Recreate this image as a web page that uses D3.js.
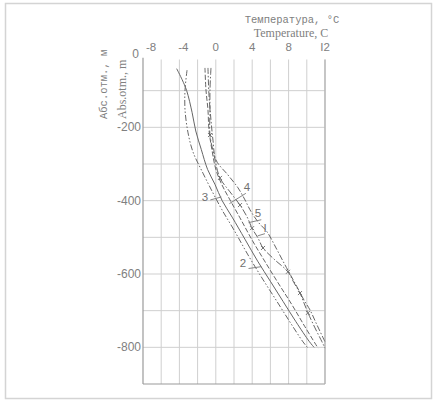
<!DOCTYPE html>
<html><head><meta charset="utf-8">
<script src="https://cdn.jsdelivr.net/npm/d3@7"></script>
<style>body{margin:0;background:#fff}svg{display:block}</style>
</head><body>
<script>
// ---- data ----
const xTicks = [-8,-4,0,4,8,12];
const xTickLabels = ["-8","-4","0","4","8","I2"];
const yTicks = [0,-200,-400,-600,-800];
const yTickLabels = ["0","-200","-400","-600","-800"];
const curve1T = [-0.86,-0.75,-0.53,-0.31,0.02,1.34,2.44,3.21,3.76,4.64,5.63,6.62,7.60,8.26,8.92,9.69,10.35,11.12,12.0];
const curve1D = [-38,-112,-180,-235,-289,-330,-365,-398,-425,-458,-485,-529,-575,-605,-635,-671,-698,-739,-785];
const curve2T = [-4.3,-3.7,-3.2,-2.6,-2.2,-1.6,-0.9,-0.1,0.7,1.8,3.2,4.6,6.0,7.4,8.8,10.3,10.8];
const curve2D = [-40,-70,-100,-160,-210,-260,-315,-355,-400,-445,-505,-565,-620,-675,-730,-785,-800];
const curve3T = [-3.16,-3.38,-3.38,-3.05,-2.51,-1.41,-0.31,0.68,2.0,3.54,5.08,6.62,8.15,9.58,10.13];
const curve3D = [-44,-98,-153,-215,-267,-325,-379,-425,-480,-548,-611,-671,-731,-785,-802];
const curve4T = [-1.19,-1.08,-0.86,-0.75,-0.42,0.02,0.68,1.56,2.66,3.98,5.30,6.84,8.37,9.80,11.23];
const curve4D = [-38,-98,-153,-207,-262,-316,-357,-398,-447,-507,-562,-624,-684,-744,-802];
const curve5T = [-0.53,-0.64,-0.64,-0.64,-0.20,0.46,1.56,2.66,3.43,3.98,4.64,5.19,6.51,7.93,8.59,9.25,9.69,10.13,10.90,11.67,12.0];
const curve5D = [-38,-98,-153,-221,-275,-338,-376,-412,-444,-475,-502,-529,-562,-594,-624,-652,-679,-706,-747,-785,-802];
const curve5Marks = [3,5,7,9,11,13,15,17];
const labelText = ["3","4","5","I","2"];
const labelT = [-1.19,3.43,4.64,5.41,2.99];
const labelD = [-390,-363,-434,-474,-570];

// ---- drawing ----
const W=437,H=405;
const svg=d3.select("body").append("svg").attr("width",W).attr("height",H);
svg.append("rect").attr("x",5.5).attr("y",3.5).attr("width",426).attr("height",395)
  .attr("fill","none").attr("stroke","#d4d4d4").attr("stroke-width",1.5);

const x=d3.scaleLinear().domain([-8,12]).range([143,325]);
const y=d3.scaleLinear().domain([0,-900]).range([54,384]);

const grid=svg.append("g").attr("stroke","#cfcfcf").attr("stroke-width",1);
d3.range(-6,12.1,2).forEach(t=>{
  grid.append("line").attr("x1",x(t)).attr("x2",x(t)).attr("y1",y(-15)).attr("y2",y(-900));
});
d3.range(-100,-801,-100).forEach(d=>{
  grid.append("line").attr("x1",x(-8)).attr("x2",x(12)).attr("y1",y(d)).attr("y2",y(d));
});
// frame lines
svg.append("line").attr("x1",x(-8)).attr("x2",x(-8)).attr("y1",y(-10)).attr("y2",y(-900)).attr("stroke","#9a9a9a").attr("stroke-width",1.2);
svg.append("line").attr("x1",x(-8)).attr("x2",x(12)).attr("y1",y(-900)).attr("y2",y(-900)).attr("stroke","#9a9a9a").attr("stroke-width",1.2);
svg.append("line").attr("x1",x(12)).attr("x2",x(12)).attr("y1",y(-15)).attr("y2",y(-900)).attr("stroke","#b0b0b0").attr("stroke-width",1.2);

// tick labels
const tc="#808080";
svg.append("g").selectAll("text").data(xTicks).join("text")
  .attr("x",(d,i)=>x(d)+(i===0?8:(i===1?4:0))).attr("y",51)
  .attr("text-anchor","middle").attr("font-family","Liberation Sans, sans-serif")
  .attr("font-size",11.5).attr("fill",tc).text((d,i)=>xTickLabels[i]);
svg.append("g").selectAll("text").data(yTicks).join("text")
  .attr("x",(d,i)=>i===0?139:141).attr("y",d=>y(d)+4)
  .attr("text-anchor","end").attr("font-family","Liberation Sans, sans-serif")
  .attr("font-size",12).attr("fill",tc).text((d,i)=>yTickLabels[i]);

// axis titles
svg.append("text").attr("x",292).attr("y",23).attr("text-anchor","middle")
  .attr("font-family","Liberation Mono, monospace").attr("font-size",10.5).attr("fill",tc)
  .text("Температура, °C");
svg.append("text").attr("x",291).attr("y",37).attr("text-anchor","middle")
  .attr("font-family","Liberation Serif, serif").attr("font-size",12).attr("fill",tc)
  .text("Temperature, C");
svg.append("text").attr("transform","translate(107,119) rotate(-90)")
  .attr("font-family","Liberation Mono, monospace").attr("font-size",10.5).attr("fill",tc)
  .text("Абс.отм., м");
svg.append("text").attr("transform","translate(126,119) rotate(-90)")
  .attr("font-family","Liberation Serif, serif").attr("font-size",12).attr("fill",tc)
  .text("Abs.otm., m");

// curves
const line=d3.line().x(p=>x(p[0])).y(p=>y(p[1])).curve(d3.curveCatmullRom.alpha(0.5));
const zip=(a,b)=>a.map((v,i)=>[v,b[i]]);
const curves=[
  {T:curve1T,D:curve1D,dash:"6,2,1.5,2"},
  {T:curve2T,D:curve2D,dash:null},
  {T:curve3T,D:curve3D,dash:"6,2,1.5,2,1.5,2"},
  {T:curve4T,D:curve4D,dash:"5,2"},
  {T:curve5T,D:curve5D,dash:"7,2,1.5,2"}
];
curves.forEach(c=>{
  const p=svg.append("path").attr("d",line(zip(c.T,c.D))).attr("fill","none")
    .attr("stroke","#666").attr("stroke-width",1);
  if(c.dash) p.attr("stroke-dasharray",c.dash);
});
// x markers on curve 5
curve5Marks.forEach(i=>{
  const cx=x(curve5T[i]), cy=y(curve5D[i]);
  svg.append("path").attr("d",`M${cx-2},${cy-2}L${cx+2},${cy+2}M${cx-2},${cy+2}L${cx+2},${cy-2}`)
    .attr("stroke","#666").attr("stroke-width",0.9);
});

// labels with leaders
const leaders=[[0.6,-1,2.2],[ -0.2,-2,-0.6],[0.4,-1.5,0.3],[0,-1,0.3],[0.7,1.5,0.6]];
labelText.forEach((t,i)=>{
  svg.append("text").attr("x",x(labelT[i])).attr("y",y(labelD[i])+4).attr("text-anchor","middle")
    .attr("font-family","Liberation Sans, sans-serif").attr("font-size",11.5).attr("fill","#707070").text(t);
});
// leader lines (data coords)
const leadA=[[-0.6,-398],[3.3,-380],[5.0,-452],[5.4,-490],[3.6,-585]];
const leadB=[[0.6,-390],[1.5,-408],[3.6,-460],[4.6,-496],[5.0,-580]];
leadA.forEach((a,i)=>{
  svg.append("line").attr("x1",x(a[0])).attr("y1",y(a[1])).attr("x2",x(leadB[i][0])).attr("y2",y(leadB[i][1]))
    .attr("stroke","#777").attr("stroke-width",0.9);
});
</script>
</body></html>
